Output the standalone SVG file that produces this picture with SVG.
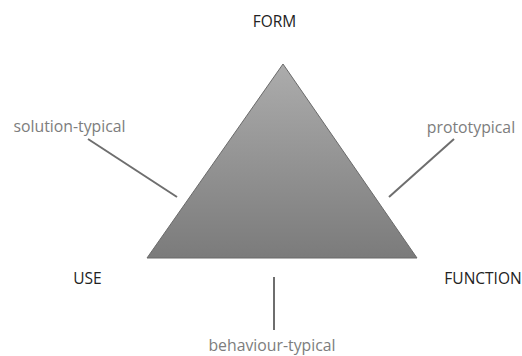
<svg xmlns="http://www.w3.org/2000/svg" width="522" height="356" viewBox="0 0 522 356">
<style>
.lab{font-family:"Open Sans","Liberation Sans",sans-serif;font-size:15.5px;fill:#222}
.sub{font-family:"Open Sans","Liberation Sans",sans-serif;font-size:15.8px;fill:#7d7d7d}
.con{stroke:#6e6e6e;stroke-width:2;fill:none}
</style>
<defs>
<linearGradient id="g" x1="0" y1="0" x2="0" y2="1">
<stop offset="0" stop-color="#acacac"/>
<stop offset="1" stop-color="#7b7b7b"/>
</linearGradient>
</defs>
<rect width="522" height="356" fill="#fff"/>
<g id="triangle">
<polygon points="283,64 147,258 417,258" fill="url(#g)" stroke="#6a6a6a" stroke-width="1"/>
</g>
<g id="connectors">
<line class="con" x1="88" y1="139" x2="177" y2="197"/>
<line class="con" x1="454" y1="139" x2="389" y2="197"/>
<line class="con" x1="274" y1="277" x2="274" y2="330"/>
</g>
<g id="form"><text class="lab" x="274.5" y="27" text-anchor="middle">FORM</text></g>
<g id="use"><text class="lab" x="87.5" y="284" text-anchor="middle">USE</text></g>
<g id="function"><text class="lab" x="483" y="284" text-anchor="middle">FUNCTION</text></g>
<g id="solution-typical"><text class="sub" x="69.5" y="132" text-anchor="middle">solution-typical</text></g>
<g id="prototypical"><text class="sub" x="471" y="133" text-anchor="middle">prototypical</text></g>
<g id="behaviour-typical"><text class="sub" x="272" y="351" text-anchor="middle">behaviour-typical</text></g>
</svg>
